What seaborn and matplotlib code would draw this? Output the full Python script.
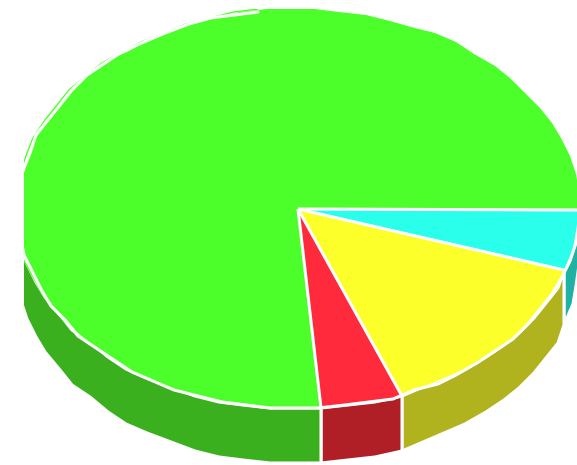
import numpy as np
import matplotlib
matplotlib.use("Agg")
import matplotlib.pyplot as plt
import seaborn as sns
from matplotlib.patches import Polygon

# slice data (clockwise from 3 o'clock)
categories = ["A", "B", "C", "D"]
shares = [4.97, 14.08, 4.67, 76.28]
top_colors = ["#2AFFEC", "#FCFF2A", "#FF2A3C", "#4CFF2A"]
side_colors = ["#1EB2A5", "#B0B21E", "#B01E26", "#3AB01E"]

# pie geometry in pixel units
cx, cy, rx, ry, depth = 298, 209, 281, 200, 55
step = 3  # coarse vertex grid -> stepped rim like the original


def rim(t0, t1, drop=0, grow=0):
    n = max(2, int(abs(t1 - t0) / 5) + 1)
    t = np.radians(np.linspace(t0, t1, n))
    x = np.round((cx + (rx + grow) * np.cos(t)) / step) * step
    y = np.round((cy + (ry + grow) * np.sin(t)) / step) * step + drop
    return np.column_stack([x, y])


sns.set_theme(style="white")

fig = plt.figure(figsize=(5.77, 4.65), dpi=100)
ax = fig.add_axes([24 / 577, 0, 553 / 577, 456 / 465])
ax.set_xlim(24, 577)
ax.set_ylim(465, 9)
ax.axis("off")

edges = np.concatenate([[0], np.cumsum(shares)]) * 3.6

# side walls (front half only)
for i in range(len(shares)):
    lo, hi = max(edges[i], 0), min(edges[i + 1], 180)
    if lo < hi:
        pts = np.vstack([rim(lo, hi), rim(hi, lo, depth)])
        ax.add_patch(Polygon(pts, closed=True, facecolor=side_colors[i],
                             edgecolor="white", lw=2.2, joinstyle="miter"))

# top faces
for i in range(len(shares)):
    pts = np.vstack([[cx, cy], rim(edges[i], edges[i + 1])])
    ax.add_patch(Polygon(pts, closed=True, facecolor=top_colors[i],
                         edgecolor="none"))

# white radial separators
for a in edges[:-1]:
    p = rim(a, a)[0]
    ax.plot([cx, p[0]], [cy, p[1]], color="white", lw=2.2,
            solid_capstyle="butt")

# thin green fringe just outside the outline on the upper left
fringe = rim(150, 262, grow=1.6)
ax.plot(fringe[:, 0], fringe[:, 1], color=top_colors[3], lw=1.0)

# white rim outline (not on the upper right part)
outline = rim(0, 262)
ax.plot(outline[:, 0], outline[:, 1], color="white", lw=2.2,
        solid_joinstyle="miter")

fig.savefig("out.png", dpi=100)
